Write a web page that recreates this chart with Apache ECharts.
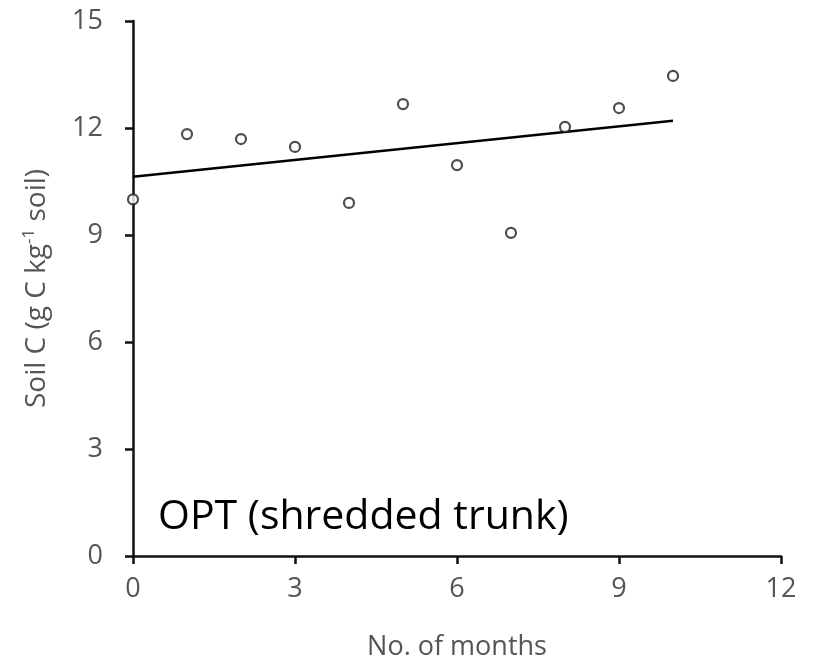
<!DOCTYPE html>
<html>
<head>
<meta charset="utf-8">
<script src="https://cdn.jsdelivr.net/npm/echarts@6/dist/echarts.min.js"></script>
<style>
  html, body { margin: 0; padding: 0; background: #fff; }
  #chart { width: 820px; height: 662px; }
</style>
</head>
<body>
<div id="chart"></div>
<script>
// months and soil C
const months = [0, 1, 2, 3, 4, 5, 6, 7, 8, 9, 10]
const soilC = [10.0, 11.83, 11.69, 11.47, 9.9, 12.67, 10.96, 9.06, 12.03, 12.56, 13.46]
// fitted line ends
const trendX = [0, 10]
const trendY = [10.63, 12.2]
const xTicks = [0, 3, 6, 9, 12]
const yTicks = [0, 3, 6, 9, 12, 15]

const font = '"Open Sans", "Liberation Sans", sans-serif'
const grey = '#555'

const myChart = echarts.init(document.getElementById('chart'))

const option = {
  animation: false,
  textStyle: { fontFamily: font },
  // keep the plot box fixed, the axis name sits near the bottom edge
  grid: { left: 133, right: 39, top: 21, bottom: 106, outerBoundsMode: 'none' },
  title: {
    text: 'OPT (shredded trunk)',
    left: 153,
    top: 492,
    textStyle: { fontFamily: font, fontSize: 41, fontWeight: 'normal', color: '#000' },
  },
  xAxis: {
    type: 'value',
    min: xTicks[0],
    max: xTicks[xTicks.length - 1],
    interval: 3,
    name: 'No. of months',
    nameLocation: 'middle',
    nameGap: 78,
    nameTextStyle: { fontSize: 27, color: grey },
    axisLine: { lineStyle: { color: '#111', width: 2.5 } },
    axisTick: { inside: false, length: 8, lineStyle: { color: '#111', width: 2.5 } },
    axisLabel: { margin: 20, fontSize: 27, color: grey },
    splitLine: { show: false },
  },
  yAxis: {
    type: 'value',
    min: yTicks[0],
    max: yTicks[yTicks.length - 1],
    interval: 3,
    name: 'Soil C (g C kg{sup|-1} soil)',
    nameLocation: 'middle',
    nameGap: 80,
    nameRotate: 90,
    nameTextStyle: {
      fontSize: 28,
      color: grey,
      rich: {
        sup: { fontSize: 17, color: grey, verticalAlign: 'top', lineHeight: 32 },
      },
    },
    axisLine: { show: true, lineStyle: { color: '#111', width: 2.5 } },
    axisTick: { show: true, length: 8, lineStyle: { color: '#111', width: 2.5 } },
    axisLabel: { margin: 30, fontSize: 27, color: grey },
    splitLine: { show: false },
  },
  series: [
    {
      type: 'line',
      data: trendX.map((x, i) => [x, trendY[i]]),
      symbol: 'none',
      lineStyle: { color: '#000', width: 2.5 },
      z: 2,
    },
    {
      type: 'scatter',
      data: months.map((m, i) => [m, soilC[i]]),
      symbol: 'circle',
      symbolSize: 10,
      itemStyle: { color: '#fff', borderColor: '#222', borderWidth: 2.2 },
      z: 3,
    },
  ],
}

myChart.setOption(option)
</script>
</body>
</html>
